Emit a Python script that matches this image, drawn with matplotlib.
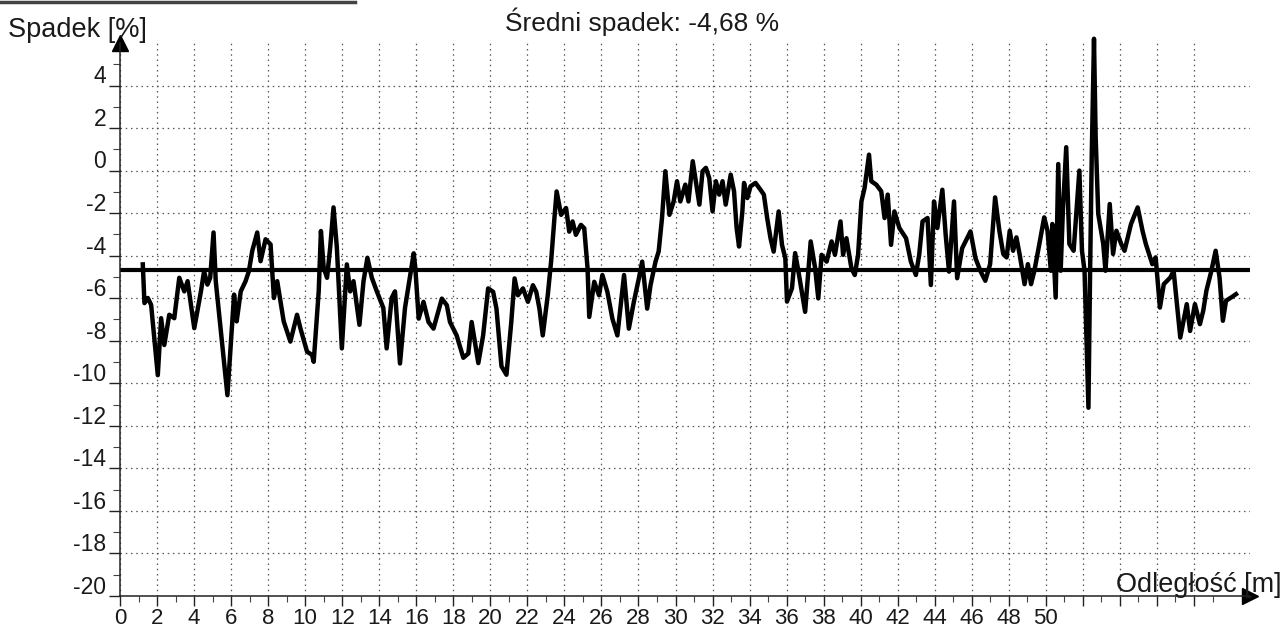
import matplotlib
matplotlib.use("Agg")
import matplotlib.pyplot as plt
import matplotlib.transforms as mtransforms
from matplotlib.lines import Line2D
import numpy as np

plt.rcParams["axes.unicode_minus"] = False

# --- data ---
distance_m = [
    1.23, 1.32, 1.50, 1.68, 2.04, 2.22, 2.39, 2.66, 2.93, 3.20, 3.47, 3.65,
    4.01, 4.37, 4.54, 4.72, 4.87, 5.05, 5.17, 5.80, 6.16, 6.30, 6.52, 6.78,
    6.96, 7.14, 7.41, 7.59, 7.86, 8.13, 8.31, 8.49, 8.84, 9.20, 9.56, 9.74,
    10.10, 10.37, 10.46, 10.73, 10.85, 11.00, 11.18, 11.35, 11.53, 11.71,
    11.98, 12.25, 12.43, 12.61, 12.93, 13.15, 13.36, 13.60, 13.87, 14.22,
    14.40, 14.67, 14.85, 15.12, 15.39, 15.86, 15.95, 16.13, 16.39, 16.66,
    16.93, 17.38, 17.65, 17.82, 18.18, 18.54, 18.81, 18.99, 19.35, 19.61,
    19.88, 20.15, 20.33, 20.60, 20.87, 21.13, 21.31, 21.49, 21.76, 22.03,
    22.30, 22.48, 22.65, 22.83, 23.10, 23.28, 23.46, 23.58, 23.82, 24.09,
    24.26, 24.44, 24.62, 24.89, 25.07, 25.25, 25.34, 25.61, 25.87, 26.05,
    26.32, 26.59, 26.86, 27.22, 27.48, 27.75, 28.02, 28.20, 28.47, 28.65,
    28.92, 29.09, 29.27, 29.45, 29.67, 29.90, 30.08, 30.26, 30.53, 30.70,
    30.93, 31.29, 31.46, 31.64, 31.82, 32.00, 32.18, 32.36, 32.54, 32.71,
    32.98, 33.16, 33.30, 33.43, 33.61, 33.70, 33.88, 34.05, 34.32, 34.59,
    34.77, 34.95, 35.13, 35.30, 35.57, 35.75, 35.93, 36.02, 36.29, 36.46,
    36.64, 37.00, 37.30, 37.54, 37.71, 37.89, 38.16, 38.43, 38.61, 38.91,
    39.05, 39.23, 39.50, 39.68, 39.86, 40.04, 40.21, 40.45, 40.57, 40.84,
    41.11, 41.29, 41.46, 41.64, 41.82, 42.09, 42.45, 42.71, 42.98, 43.16,
    43.34, 43.61, 43.79, 43.96, 44.14, 44.41, 44.59, 44.77, 45.04, 45.21,
    45.48, 45.93, 46.20, 46.46, 46.73, 46.99, 47.26, 47.49, 47.70, 47.88,
    48.05, 48.23, 48.41, 48.58, 48.85, 49.03, 49.20, 49.38, 49.65, 49.91,
    50.09, 50.27, 50.35, 50.53, 50.67, 50.80, 50.92, 51.10, 51.27, 51.50,
    51.81, 51.95, 52.09, 52.30, 52.39, 52.48, 52.60, 52.69, 52.83, 53.10,
    53.22, 53.45, 53.63, 53.81, 54.07, 54.25, 54.60, 54.96, 55.22, 55.40,
    55.75, 55.93, 56.16, 56.37, 56.73, 56.90, 57.08, 57.26, 57.61, 57.79,
    58.05, 58.32, 58.50, 58.67, 58.94, 59.17, 59.38, 59.56, 59.73, 60.00,
    60.27,
]
slope_pct = [
    -4.41, -6.23, -5.99, -6.31, -9.62, -6.94, -8.20, -6.78, -6.94, -5.04, -5.68, -5.20,
    -7.41, -5.68, -4.73, -5.36, -5.04, -2.91, -5.20, -10.56, -5.83, -7.09, -5.68, -5.20,
    -4.73, -3.78, -2.91, -4.26, -3.23, -3.47, -5.99, -5.20, -7.09, -8.04, -6.78, -7.41,
    -8.51, -8.67, -8.99, -5.68, -2.84, -4.57, -5.04, -3.62, -1.73, -3.62,
    -8.36, -4.41, -5.68, -5.20, -7.25, -5.20, -4.10, -5.04, -5.68, -6.46,
    -8.36, -5.99, -5.68, -9.07, -6.46, -3.89, -4.60, -6.96, -6.17, -7.12,
    -7.43, -6.02, -6.33, -7.12, -7.75, -8.80, -8.60, -7.12, -9.05, -7.75,
    -5.54, -5.70, -6.49, -9.20, -9.60, -7.12, -5.07, -5.86, -5.54, -6.17,
    -5.39, -5.70, -6.49, -7.75, -5.86, -4.28, -2.24, -0.98, -2.08, -1.76,
    -2.87, -2.39, -3.02, -2.55, -2.71, -4.60, -6.88, -5.23, -5.86, -4.91,
    -5.70, -6.96, -7.75, -4.91, -7.43, -6.17, -5.07, -4.28, -6.49, -5.39,
    -4.28, -3.80, -2.24, -0.03, -2.08, -1.45, -0.50, -1.45, -0.66, -1.45,
    0.44, -1.60, -0.03, 0.13, -0.35, -1.92, -0.50, -1.13, -0.50, -1.60,
    -0.19, -0.97, -2.70, -3.57, -1.92, -0.58, -1.29, -0.74, -0.58, -0.90,
    -1.13, -2.23, -3.18, -3.81, -1.92, -3.49, -4.12, -6.16, -5.53, -3.88,
    -4.75, -6.64, -3.33, -4.59, -6.01, -3.96, -4.28, -3.33, -3.96, -2.39,
    -3.96, -3.18, -4.59, -4.91, -3.96, -1.45, -0.82, 0.75, -0.50, -0.66,
    -0.97, -2.23, -1.13, -3.49, -1.92, -2.70, -3.18, -4.28, -4.91, -3.96,
    -2.39, -2.23, -5.38, -1.45, -2.70, -0.90, -3.02, -4.75, -1.45, -5.06,
    -3.65, -2.86, -4.12, -4.71, -5.18, -4.40, -1.26, -2.83, -3.92, -4.08,
    -2.83, -3.77, -3.14, -3.92, -5.34, -4.40, -5.34, -4.71, -3.45, -2.20,
    -2.83, -4.71, -2.51, -5.97, 0.31, -4.71, -1.88, 1.10, -3.45, -3.77,
    0.00, -3.77, -4.71, -11.15, -4.71, 0.78, 6.20, 1.57, -2.04, -3.45,
    -4.71, -1.57, -3.92, -2.83, -3.45, -3.77, -2.51, -1.73, -2.83, -3.45,
    -4.40, -4.08, -6.44, -5.34, -5.02, -4.71, -6.28, -7.85, -6.28, -7.54,
    -6.28, -7.22, -6.59, -5.65, -4.71, -3.77, -5.02, -7.06, -6.12, -5.97,
    -5.81,
]
mean_slope = -4.68

x_ticks = list(range(0, 60, 2))
x_labels = [str(v) if v <= 50 else "" for v in x_ticks]
y_ticks = list(range(-20, 6, 2))

num_font = ["Liberation Sans Narrow", "Liberation Sans", "DejaVu Sans"]
txt_font = ["Liberation Sans", "DejaVu Sans"]

fig = plt.figure(figsize=(12.85, 6.33), dpi=100)
ax = fig.add_axes([0.0934, 0.0585, 0.879, 0.8736])

ax.plot(distance_m, slope_pct, color="black", lw=3.2, clip_on=False)
ax.axhline(mean_slope, color="black", lw=3.0)

ax.set_xlim(0, 61)
ax.set_ylim(-20, 6)

# grid
ax.set_xticks(x_ticks)
ax.set_xticklabels(x_labels)
ax.set_yticks(y_ticks)
ax.set_xticks(np.arange(0, 60, 1), minor=True)
ax.set_yticks(np.arange(-19, 6, 2), minor=True)
ax.grid(True, which="major", color="#555555", lw=0.9, linestyle=(0, (1.2, 3.0)))

for s in ["top", "right"]:
    ax.spines[s].set_visible(False)
for s in ["left", "bottom"]:
    ax.spines[s].set_linewidth(1.1)
    ax.spines[s].set_color("#222222")

ax.tick_params(axis="x", which="major", length=7, width=1, pad=1.5, colors="#222222")
ax.tick_params(axis="x", which="minor", length=4, width=0.8, colors="#444444")
ax.tick_params(axis="y", which="major", length=8, width=1, pad=2, colors="#222222")
ax.tick_params(axis="y", which="minor", length=5, width=0.8, colors="#444444")

for lab in ax.get_xticklabels():
    lab.set_fontfamily(num_font)
    lab.set_fontsize(16)
    lab.set_color("#1a1a1a")
shift = mtransforms.ScaledTranslation(0, 8 / 72, fig.dpi_scale_trans)
for lab in ax.get_yticklabels():
    lab.set_fontfamily(num_font)
    lab.set_fontsize(16.5)
    lab.set_color("#1a1a1a")
    lab.set_transform(lab.get_transform() + shift)

# axis arrows
ax.plot(0, 1, marker="^", markersize=11, color="black", transform=ax.transAxes, clip_on=False)
ax.plot(1, 0, marker=">", markersize=11, color="black", transform=ax.transAxes, clip_on=False)

title = f"Średni spadek: {mean_slope:.2f} %".replace(".", ",")
fig.text(0.50, 0.966, title, ha="center", va="center", fontsize=19, family=txt_font, color="#1a1a1a")
fig.text(0.006, 0.952, "Spadek [%]", ha="left", va="center", fontsize=19.5, family=txt_font, color="#1a1a1a")
fig.text(0.997, 0.076, "Odległość [m]", ha="right", va="center", fontsize=19.5, family=txt_font, color="#1a1a1a")

# dark rule along the top edge of the scan
fig.add_artist(Line2D([0.0, 0.276], [0.997, 0.997], color="#444444", lw=2.5, transform=fig.transFigure))

fig.savefig("out.png", dpi=100, facecolor="white")
